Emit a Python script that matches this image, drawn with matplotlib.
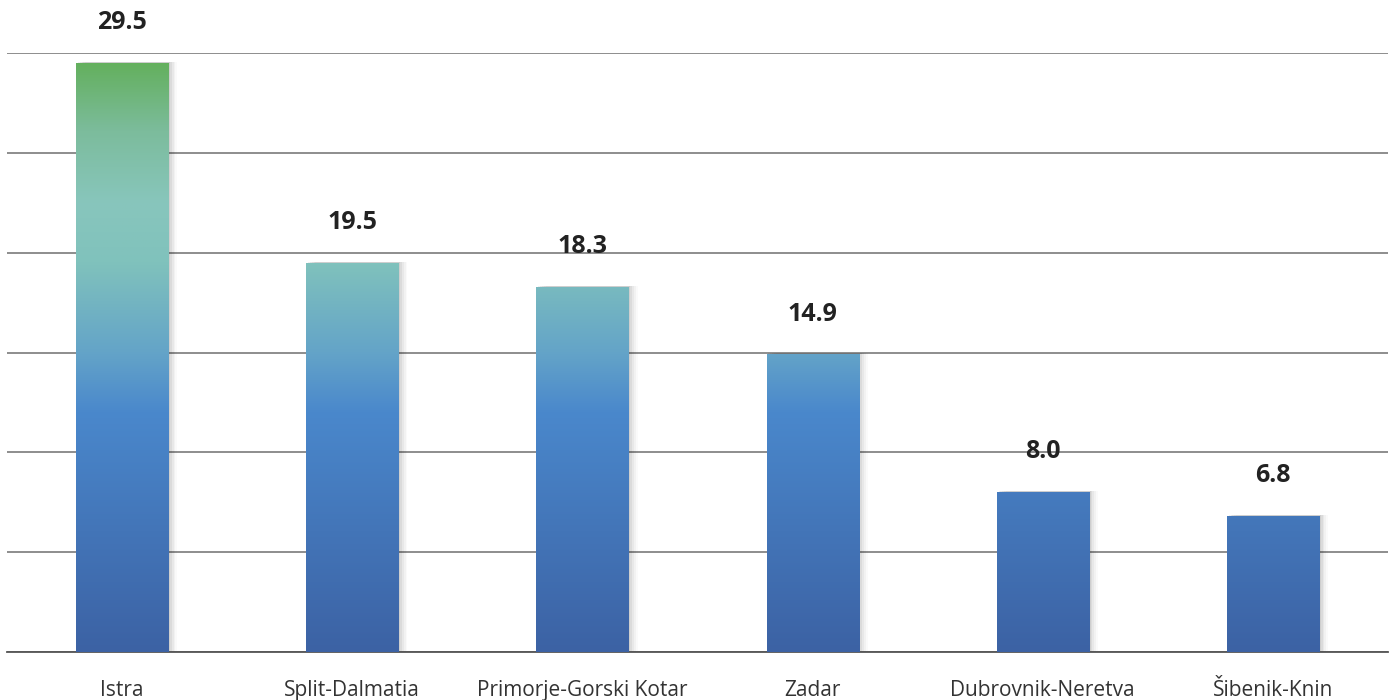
import numpy as np
import matplotlib
matplotlib.use("Agg")
import matplotlib.pyplot as plt
from matplotlib.colors import LinearSegmentedColormap
from matplotlib.patches import Rectangle

# Data
regions = ["Istra", "Split-Dalmatia", "Primorje-Gorski Kotar", "Zadar",
           "Dubrovnik-Neretva", "Šibenik-Knin"]
values = [29.5, 19.5, 18.3, 14.9, 8.0, 6.8]

plt.rcParams["font.family"] = ["Open Sans", "DejaVu Sans"]

# vertical gradient from blue (bottom) to teal to green (top)
cmap = LinearSegmentedColormap.from_list("grad", [
    (0.00, "#3c62a4"),
    (0.40, "#4a88cc"),
    (0.50, "#64a4c8"),
    (0.65, "#80c2bc"),
    (0.75, "#88c6bc"),
    (0.87, "#7cbc9c"),
    (1.00, "#60ae54"),
])

fig = plt.figure(figsize=(13.95, 7), dpi=100)
ax = fig.add_axes([7 / 1395, 48 / 700, 1381 / 1395, 599 / 700])

ymax = 30
x = np.arange(len(regions))
bars = ax.bar(x, values, width=0.4, color="none", zorder=3)

grad = np.linspace(0, 1, 256).reshape(-1, 1)
for rect, v in zip(bars, values):
    x0 = rect.get_x()
    w = rect.get_width()
    # soft shadow on the right
    for i, a in enumerate([0.06, 0.05, 0.04, 0.03, 0.02]):
        sh = Rectangle((x0 + 0.008 * (i + 1), 0), w, v + 0.05,
                       facecolor="black", edgecolor="none", alpha=a, zorder=2)
        ax.add_patch(sh)
    im = ax.imshow(grad, cmap=cmap, origin="lower", aspect="auto",
                   extent=[x0, x0 + w, 0, ymax], zorder=3)
    im.set_clip_path(rect)
    ax.annotate(f"{v:.1f}", (x0 + w / 2, v), xytext=(0, 20),
                textcoords="offset points", ha="center", va="bottom",
                fontsize=18, fontweight="bold", color="#222222",
                annotation_clip=False)

ax.set_xlim(-0.5, len(regions) - 0.5)
ax.set_ylim(0, ymax)
ax.set_yticks(np.arange(0, ymax + 1, 5))
ax.yaxis.grid(True, color="#7a7a7a", linewidth=1.2, zorder=1)
ax.set_axisbelow(True)
ax.tick_params(axis="y", left=False, labelleft=False)
ax.tick_params(axis="x", length=0, pad=20, labelsize=15, labelcolor="#333333")
ax.set_xticks(x)
ax.set_xticklabels(regions)
for s in ["top", "right", "left"]:
    ax.spines[s].set_visible(False)
ax.spines["bottom"].set_color("#555555")
ax.spines["bottom"].set_linewidth(1.3)

fig.savefig("out.png", dpi=100)
